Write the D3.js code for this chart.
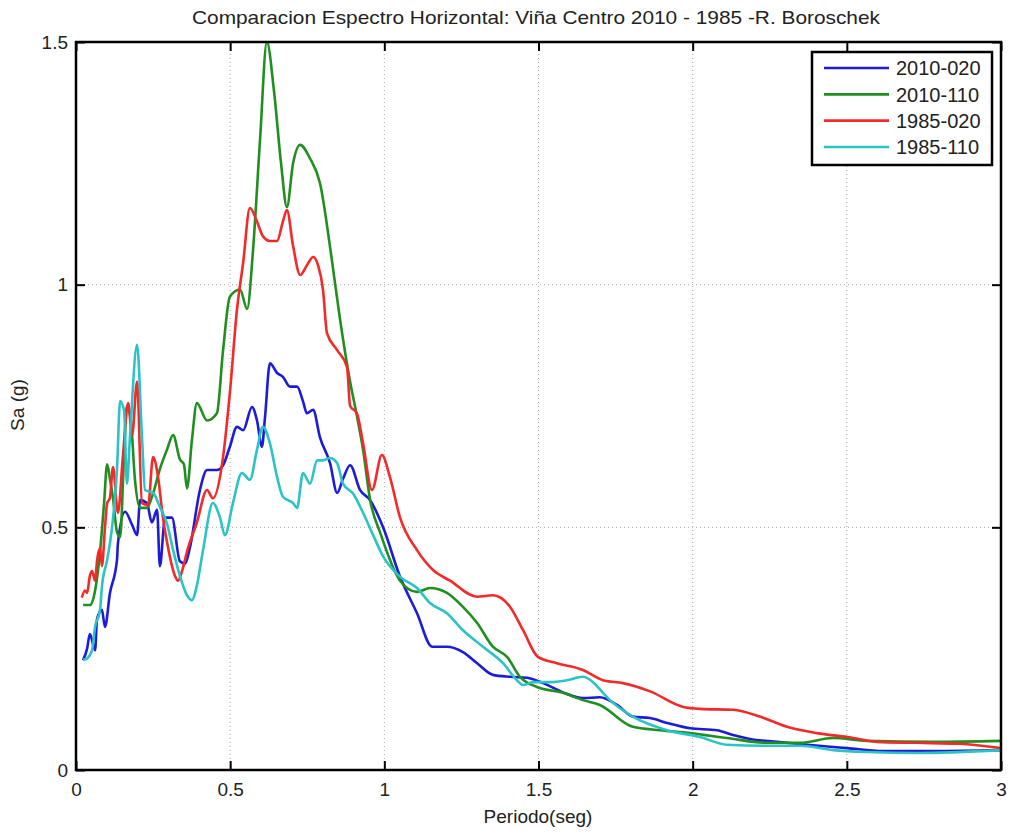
<!DOCTYPE html>
<html>
<head>
<meta charset="utf-8">
<script src="https://cdn.jsdelivr.net/npm/d3@7"></script>
<style>
  html, body { margin: 0; padding: 0; background: #fff; }
  svg { display: block; }
  text { font-family: "Liberation Sans", Arial, sans-serif; fill: #222; }
</style>
</head>
<body>
<svg id="chart" width="1011" height="834"></svg>
<script>
// ---------- DATA ----------
const title = "Comparacion Espectro Horizontal: Viña Centro 2010 - 1985 -R. Boroschek";
const xLabel = "Periodo(seg)";
const yLabel = "Sa (g)";
const xTicks = [0, 0.5, 1, 1.5, 2, 2.5, 3];
const yTicks = [0, 0.5, 1, 1.5];
const seriesNames = ["2010-020", "2010-110", "1985-020", "1985-110"];
const seriesColors = ["#1c1cd8", "#1f8f1f", "#f22a2a", "#2cc3c6"];

// [period (s), Sa (g)]
const s2010_020 = [
  [0.023,0.226],[0.036,0.25],[0.045,0.28],[0.062,0.247],[0.068,0.31],[0.084,0.33],[0.094,0.295],
  [0.110,0.364],[0.133,0.433],[0.136,0.467],[0.159,0.532],[0.182,0.505],[0.198,0.484],[0.208,0.556],
  [0.230,0.55],[0.246,0.51],[0.263,0.536],[0.272,0.42],[0.289,0.52],[0.311,0.52],[0.337,0.43],
  [0.354,0.425],[0.370,0.46],[0.402,0.577],[0.425,0.618],[0.457,0.618],[0.477,0.628],[0.499,0.666],
  [0.522,0.707],[0.542,0.70],[0.571,0.748],[0.587,0.72],[0.603,0.666],[0.613,0.727],[0.629,0.838],
  [0.652,0.818],[0.671,0.81],[0.694,0.79],[0.717,0.79],[0.736,0.76],[0.749,0.735],[0.769,0.742],
  [0.791,0.686],[0.824,0.632],[0.847,0.571],[0.866,0.60],[0.889,0.628],[0.921,0.577],[0.954,0.556],
  [0.996,0.50],[1.051,0.398],[1.106,0.323],[1.155,0.254],[1.203,0.254],[1.255,0.243],[1.301,0.22],
  [1.352,0.196],[1.408,0.192],[1.463,0.19],[1.515,0.179],[1.580,0.16],[1.644,0.148],[1.699,0.15],
  [1.755,0.134],[1.806,0.11],[1.862,0.107],[1.917,0.097],[1.992,0.086],[2.079,0.082],[2.131,0.072],
  [2.186,0.064],[2.274,0.058],[2.371,0.052],[2.501,0.045],[2.617,0.039],[2.780,0.039],[3.0,0.041]
];
const s2010_110 = [
  [0.023,0.34],[0.045,0.34],[0.062,0.37],[0.078,0.45],[0.091,0.55],[0.101,0.63],[0.110,0.60],
  [0.120,0.56],[0.133,0.49],[0.143,0.48],[0.156,0.65],[0.165,0.75],[0.178,0.72],[0.191,0.60],
  [0.208,0.54],[0.230,0.54],[0.250,0.57],[0.272,0.62],[0.295,0.66],[0.315,0.69],[0.337,0.64],
  [0.350,0.63],[0.360,0.58],[0.376,0.68],[0.392,0.756],[0.425,0.72],[0.457,0.735],[0.477,0.865],
  [0.499,0.975],[0.532,0.99],[0.555,0.95],[0.574,1.07],[0.597,1.30],[0.619,1.50],[0.642,1.40],
  [0.665,1.25],[0.684,1.16],[0.704,1.25],[0.727,1.288],[0.759,1.26],[0.791,1.21],[0.830,1.05],
  [0.856,0.93],[0.889,0.80],[0.911,0.73],[0.931,0.66],[0.954,0.556],[0.986,0.49],[1.051,0.39],
  [1.106,0.367],[1.148,0.375],[1.203,0.365],[1.255,0.336],[1.301,0.303],[1.352,0.254],[1.398,0.233],
  [1.440,0.192],[1.495,0.171],[1.580,0.159],[1.644,0.144],[1.699,0.134],[1.806,0.089],[1.894,0.082],
  [1.992,0.076],[2.111,0.066],[2.241,0.056],[2.348,0.056],[2.455,0.066],[2.565,0.06],[2.780,0.058],[3.0,0.06]
];
const s1985_020 = [
  [0.019,0.355],[0.029,0.37],[0.036,0.365],[0.045,0.40],[0.052,0.41],[0.062,0.39],[0.068,0.43],
  [0.078,0.457],[0.084,0.42],[0.094,0.50],[0.101,0.55],[0.110,0.56],[0.120,0.624],[0.136,0.53],
  [0.152,0.645],[0.169,0.756],[0.182,0.69],[0.198,0.80],[0.214,0.55],[0.234,0.546],[0.250,0.645],
  [0.266,0.604],[0.282,0.52],[0.298,0.46],[0.321,0.40],[0.331,0.39],[0.344,0.41],[0.360,0.45],
  [0.392,0.51],[0.425,0.577],[0.444,0.56],[0.477,0.645],[0.499,0.777],[0.522,0.948],[0.542,1.045],
  [0.564,1.158],[0.587,1.13],[0.606,1.10],[0.629,1.09],[0.652,1.09],[0.671,1.13],[0.684,1.154],
  [0.704,1.08],[0.727,1.02],[0.749,1.04],[0.769,1.057],[0.785,1.04],[0.801,0.99],[0.814,0.90],
  [0.847,0.865],[0.879,0.83],[0.889,0.75],[0.911,0.735],[0.931,0.673],[0.960,0.577],[0.992,0.649],
  [1.018,0.604],[1.051,0.52],[1.106,0.453],[1.158,0.412],[1.213,0.39],[1.301,0.357],[1.352,0.36],
  [1.408,0.336],[1.450,0.288],[1.498,0.233],[1.560,0.22],[1.644,0.206],[1.709,0.185],[1.774,0.179],
  [1.862,0.162],[1.969,0.13],[2.024,0.126],[2.131,0.124],[2.218,0.11],[2.306,0.089],[2.403,0.076],
  [2.501,0.068],[2.598,0.058],[2.728,0.056],[2.867,0.054],[3.0,0.045]
];
const s1985_110 = [
  [0.023,0.227],[0.036,0.23],[0.052,0.247],[0.062,0.295],[0.078,0.33],[0.084,0.377],[0.101,0.433],
  [0.117,0.50],[0.133,0.62],[0.143,0.76],[0.156,0.74],[0.165,0.59],[0.175,0.686],[0.198,0.876],
  [0.214,0.686],[0.224,0.577],[0.250,0.571],[0.272,0.542],[0.295,0.508],[0.315,0.453],[0.337,0.40],
  [0.360,0.36],[0.376,0.35],[0.392,0.38],[0.412,0.453],[0.444,0.55],[0.467,0.52],[0.483,0.484],
  [0.509,0.55],[0.538,0.612],[0.564,0.598],[0.587,0.66],[0.606,0.707],[0.629,0.673],[0.652,0.604],
  [0.671,0.563],[0.704,0.55],[0.717,0.54],[0.736,0.612],[0.759,0.59],[0.782,0.638],[0.801,0.638],
  [0.824,0.643],[0.847,0.632],[0.866,0.59],[0.898,0.57],[0.931,0.53],[0.963,0.485],[0.996,0.44],
  [1.051,0.398],[1.106,0.375],[1.148,0.344],[1.203,0.323],[1.255,0.288],[1.320,0.254],[1.385,0.22],
  [1.430,0.185],[1.450,0.175],[1.482,0.181],[1.537,0.181],[1.592,0.185],[1.644,0.192],[1.677,0.181],
  [1.709,0.159],[1.732,0.144],[1.806,0.11],[1.917,0.082],[2.024,0.068],[2.111,0.052],[2.241,0.05],
  [2.348,0.05],[2.455,0.041],[2.565,0.037],[2.728,0.035],[3.0,0.041]
];
const seriesData = [s2010_020, s2010_110, s1985_020, s1985_110];

// ---------- CHART ----------
const svg = d3.select("#chart");
const L = 76, R = 1001, T = 42, B = 770;
const x = d3.scaleLinear().domain([0, 3]).range([L, R]);
const y = d3.scaleLinear().domain([0, 1.5]).range([B, T]);

svg.append("rect").attr("width", 1011).attr("height", 834).attr("fill", "#fff");

// grid
const grid = svg.append("g").attr("stroke", "#a8a8a8").attr("stroke-width", 1).attr("stroke-dasharray", "1,3");
grid.selectAll("line.gx").data(xTicks.slice(1, -1)).join("line")
  .attr("x1", d => x(d)).attr("x2", d => x(d)).attr("y1", T).attr("y2", B);
grid.selectAll("line.gy").data(yTicks.slice(1, -1)).join("line")
  .attr("y1", d => y(d)).attr("y2", d => y(d)).attr("x1", L).attr("x2", R);

// series
const line = d3.line().x(d => x(d[0])).y(d => y(d[1])).curve(d3.curveMonotoneX);
svg.append("clipPath").attr("id", "clip").append("rect")
  .attr("x", L).attr("y", T - 2).attr("width", R - L).attr("height", B - T + 2);
svg.append("g").attr("clip-path", "url(#clip)")
  .selectAll("path").data(seriesData).join("path")
  .attr("d", line).attr("fill", "none")
  .attr("stroke", (d, i) => seriesColors[i])
  .attr("stroke-width", 2.6).attr("stroke-linejoin", "round");

// axes
const fmt = d => String(d);
const axB = svg.append("g").attr("transform", `translate(0,${B})`)
  .call(d3.axisBottom(x).tickValues(xTicks).tickSize(-9).tickPadding(13).tickFormat(fmt));
const axT = svg.append("g").attr("transform", `translate(0,${T})`)
  .call(d3.axisTop(x).tickValues(xTicks).tickSize(-9).tickFormat(""));
const axL = svg.append("g").attr("transform", `translate(${L},0)`)
  .call(d3.axisLeft(y).tickValues(yTicks).tickSize(-9).tickPadding(8).tickFormat(fmt));
const axR = svg.append("g").attr("transform", `translate(${R},0)`)
  .call(d3.axisRight(y).tickValues(yTicks).tickSize(-9).tickFormat(""));
[axB, axT, axL, axR].forEach(a => {
  a.select(".domain").remove();
  a.selectAll(".tick line").attr("stroke", "#000").attr("stroke-width", 2);
  a.selectAll(".tick text").attr("font-size", 19).attr("fill", "#222")
    .attr("font-family", "'Liberation Sans', Arial, sans-serif");
});
svg.append("rect").attr("x", L).attr("y", T).attr("width", R - L).attr("height", B - T)
  .attr("fill", "none").attr("stroke", "#000").attr("stroke-width", 2.5);

// labels
svg.append("text").attr("x", 536).attr("y", 24).attr("text-anchor", "middle")
  .attr("font-size", 19).attr("textLength", 688).attr("lengthAdjust", "spacingAndGlyphs").text(title);
svg.append("text").attr("x", 538).attr("y", 823).attr("text-anchor", "middle")
  .attr("font-size", 19).text(xLabel);
svg.append("text").attr("transform", "translate(24,405) rotate(-90)").attr("text-anchor", "middle")
  .attr("font-size", 19).text(yLabel);

// legend
const lg = svg.append("g");
lg.append("rect").attr("x", 812).attr("y", 52).attr("width", 180).attr("height", 113)
  .attr("fill", "#fff").attr("stroke", "#000").attr("stroke-width", 2.5);
const rowY = d3.scalePoint().domain(seriesNames).range([68, 147]);
seriesNames.forEach((n, i) => {
  lg.append("line").attr("x1", 824).attr("x2", 889).attr("y1", rowY(n)).attr("y2", rowY(n))
    .attr("stroke", seriesColors[i]).attr("stroke-width", 2.6);
  lg.append("text").attr("x", 896).attr("y", rowY(n)).attr("dy", "0.36em")
    .attr("font-size", 20).text(n);
});
</script>
</body>
</html>
